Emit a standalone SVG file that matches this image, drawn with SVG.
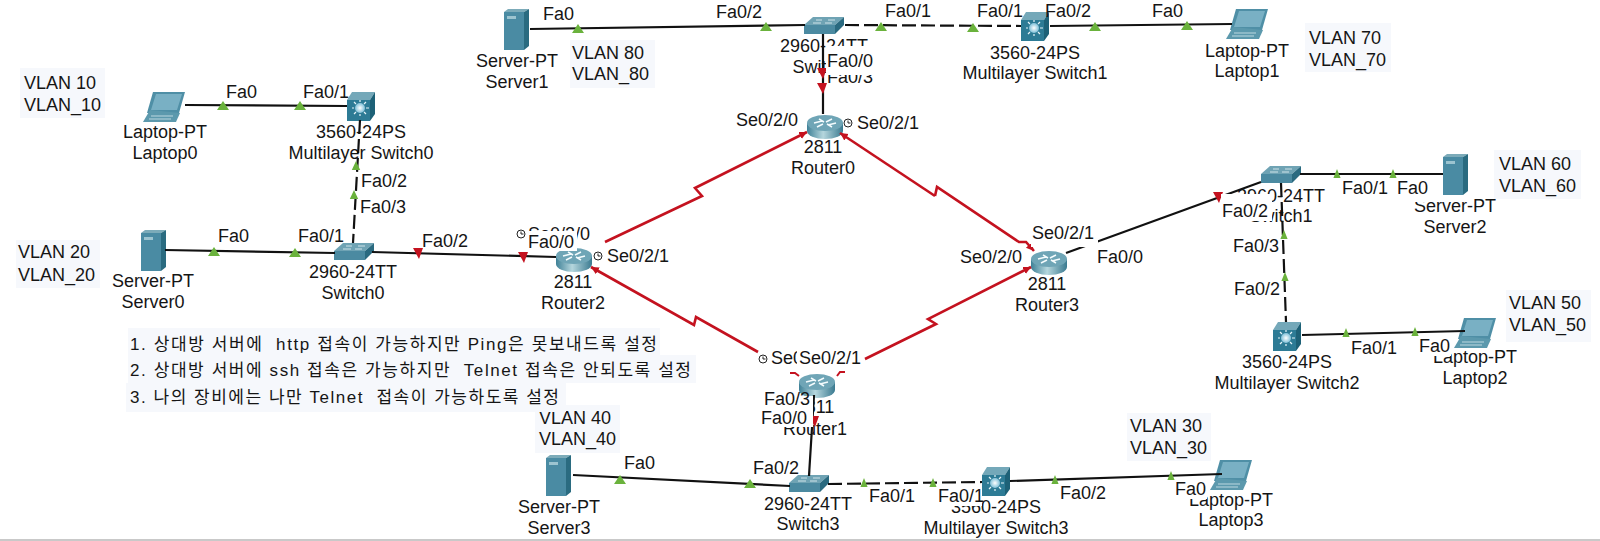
<svg xmlns="http://www.w3.org/2000/svg" width="1600" height="541" viewBox="0 0 1600 541">
<style>
text{font-family:"Liberation Sans",Arial,sans-serif;font-size:18px;fill:#151515}
.c{text-anchor:middle}
.note{font-family:"Liberation Sans","Noto Sans CJK KR",sans-serif;font-size:17px;white-space:pre}
.v{fill:#f6f8fc}
.w{fill:#fff}
.eth{fill:none;stroke:#111;stroke-width:2.2}
.dash{fill:none;stroke:#111;stroke-width:2.2;stroke-dasharray:14 5}
.ser{fill:none;stroke:#c4121f;stroke-width:2.6;marker-end:url(#ah)}
.stub{fill:none;stroke:#c4121f;stroke-width:2}
.ck{fill:#fff;stroke:#222;stroke-width:1}
.ckh{fill:none;stroke:#222;stroke-width:1}
</style>
<defs>
<marker id="ah" markerWidth="4" markerHeight="4" refX="3" refY="1.5" orient="auto" markerUnits="strokeWidth"><path d="M0,0 L3,1.5 L0,3 Z" fill="#c4121f"/></marker>
<linearGradient id="rg" x1="0" x2="1" y1="0" y2="0"><stop offset="0" stop-color="#3f8197"/><stop offset=".45" stop-color="#b5d6dd"/><stop offset="1" stop-color="#3a7a90"/></linearGradient>
<radialGradient id="sun"><stop offset="0" stop-color="#fff"/><stop offset="1" stop-color="#7fc0d8"/></radialGradient>
<polygon id="g" points="-6,4 6,4 0,-5" fill="#6ab23c"/>
<polygon id="r" points="-5,-5 5,-5 1,6" fill="#c4121f"/>
<g id="sw"><polygon points="0,8 9,0 40,0 31,8" fill="#6fa3b4"/><polygon points="0,8 31,8 31,17 0,17" fill="#4b8aa1"/><polygon points="31,8 40,0 40,8 31,17" fill="#2a6a80"/><path d="M12,3h6M24,3h7M9,6h8M21,6h7" stroke="#cfe3e9" stroke-width="1"/></g>
<g id="rt"><path d="M0,9 V17 A18,8 0 0 0 36,17 V9 Z" fill="url(#rg)"/><ellipse cx="18" cy="9" rx="18" ry="8" fill="#6fa5b6"/><path d="M7,9 L15,7 M21,11 L29,9 M12,5 L17,8 M20,10 L25,13 M25,5 L19,8 M16,10 L10,13" stroke="#f4fbfd" stroke-width="1.5"/></g>
<g id="ml"><polygon points="0,8 5,0 28,0 23,8" fill="#74a8b9"/><rect y="8" width="23" height="21" fill="#2d7b95"/><polygon points="23,8 28,0 28,22 23,29" fill="#1d6177"/><circle cx="13" cy="16" r="5" fill="url(#sun)"/><path d="M13,8V10M13,22V24M5,16H7M19,16H22M7,10L9,12M19,10L17,12M7,22L9,20M19,22L17,20" stroke="#e6f4f8" stroke-width="1.2"/></g>
<g id="sv"><polygon points="0,3 4,0 25,0 20,3" fill="#7cabb9"/><rect y="3" width="20" height="38" fill="#4a8ba3"/><polygon points="20,3 25,0 25,37 20,41" fill="#2a6b80"/><rect x="3" y="7" width="9" height="3" fill="#9cc4d0"/></g>
<g id="lp"><polygon points="10,0 42,0 36,21 4,21" fill="#4f8fa6"/><polygon points="13,2 39,2 34,18 8,18" fill="#79b0c4"/><polygon points="7,18 37,21 33,30 0,30" fill="#5c99ad"/><path d="M8,24H30M6,27H28" stroke="#bcd8e0" stroke-width="1"/></g>
<g id="ck"><circle r="4" class="ck"/><path d="M0,-2.5V0H2.5" class="ckh"/></g>
</defs>
<rect width="1600" height="541" fill="#fff"/>
<rect y="539" width="1600" height="2" fill="#c9c9c9"/>

<g id="notes">
<rect class="v" x="20" y="68" width="85" height="50"/><text x="24" y="89">VLAN 10</text><text x="24" y="111">VLAN_10</text>
<rect class="v" x="16" y="240" width="84" height="48"/><text x="18" y="258">VLAN 20</text><text x="18" y="281">VLAN_20</text>
<rect class="v" x="570" y="40" width="85" height="48"/><text x="572" y="59">VLAN 80</text><text x="572" y="80">VLAN_80</text>
<rect class="v" x="1305" y="23" width="86" height="49"/><text x="1309" y="44">VLAN 70</text><text x="1309" y="66">VLAN_70</text>
<rect class="v" x="1494" y="150" width="87" height="49"/><text x="1499" y="170">VLAN 60</text><text x="1499" y="192">VLAN_60</text>
<rect class="v" x="1506" y="290" width="85" height="52"/><text x="1509" y="309">VLAN 50</text><text x="1509" y="331">VLAN_50</text>
<rect class="v" x="535" y="405" width="85" height="48"/><text x="539" y="424">VLAN 40</text><text x="539" y="445">VLAN_40</text>
<rect class="v" x="1127" y="413" width="84" height="48"/><text x="1130" y="432">VLAN 30</text><text x="1130" y="454">VLAN_30</text>
<rect class="v" x="128" y="328" width="532" height="27"/><rect class="v" x="128" y="355" width="568" height="28"/><rect class="v" x="126" y="383" width="440" height="29"/>
<text class="note" x="130" y="350" textLength="527" lengthAdjust="spacing">1. 상대방 서버에  http 접속이 가능하지만 Ping은 못보내드록 설정</text>
<text class="note" x="130" y="376" textLength="561" lengthAdjust="spacing">2. 상대방 서버에 ssh 접속은 가능하지만  Telnet 접속은 안되도록 설정</text>
<text class="note" x="130" y="403" textLength="429" lengthAdjust="spacing">3. 나의 장비에는 나만 Telnet  접속이 가능하도록 설정</text>
</g>

<g id="Laptop0"><use href="#lp" x="143" y="92"/><text class="c" x="165" y="138">Laptop-PT</text><text class="c" x="165" y="159">Laptop0</text></g>
<g id="MultilayerSwitch0"><use href="#ml" x="347" y="92"/><text class="c" x="361" y="138">3560-24PS</text><text class="c" x="361" y="159">Multilayer Switch0</text></g>
<g id="Server0"><use href="#sv" x="141" y="230"/><text class="c" x="153" y="287">Server-PT</text><text class="c" x="153" y="308">Server0</text></g>
<g id="Switch0"><use href="#sw" x="334" y="243"/><text class="c" x="353" y="278">2960-24TT</text><text class="c" x="353" y="299">Switch0</text></g>
<g id="Router2"><use href="#rt" x="556" y="247"/><text class="c" x="573" y="288">2811</text><text class="c" x="573" y="309">Router2</text></g>
<g id="Server1"><use href="#sv" x="504" y="9"/><text class="c" x="517" y="67">Server-PT</text><text class="c" x="517" y="88">Server1</text></g>
<g id="Switch2"><use href="#sw" x="804" y="17"/><text class="c" x="824" y="52">2960-24TT</text><text class="c" x="824" y="73">Switch2</text></g>
<g id="Router0"><use href="#rt" x="807" y="114"/><text class="c" x="823" y="153">2811</text><text class="c" x="823" y="174">Router0</text></g>
<g id="MultilayerSwitch1"><use href="#ml" x="1021" y="12"/><text class="c" x="1035" y="59">3560-24PS</text><text class="c" x="1035" y="79">Multilayer Switch1</text></g>
<g id="Laptop1"><use href="#lp" x="1226" y="9"/><text class="c" x="1247" y="57">Laptop-PT</text><text class="c" x="1247" y="77">Laptop1</text></g>
<g id="Router3"><use href="#rt" x="1031" y="250"/><text class="c" x="1047" y="290">2811</text><text class="c" x="1047" y="311">Router3</text></g>
<g id="Switch1"><use href="#sw" x="1261" y="166"/><text class="c" x="1281" y="202">2960-24TT</text><text class="c" x="1281" y="222">Switch1</text></g>
<g id="Server2"><use href="#sv" x="1443" y="154"/><text class="c" x="1455" y="212">Server-PT</text><text class="c" x="1455" y="233">Server2</text></g>
<g id="MultilayerSwitch2"><use href="#ml" x="1273" y="322"/><text class="c" x="1287" y="368">3560-24PS</text><text class="c" x="1287" y="389">Multilayer Switch2</text></g>
<g id="Laptop2"><use href="#lp" x="1454" y="318"/><text class="c" x="1475" y="363">Laptop-PT</text><text class="c" x="1475" y="384">Laptop2</text></g>
<g id="Router1"><use href="#rt" x="799" y="373"/><text class="c" x="815" y="413">2811</text><text class="c" x="815" y="435">Router1</text></g>
<g id="Server3"><use href="#sv" x="546" y="455"/><text class="c" x="559" y="513">Server-PT</text><text class="c" x="559" y="534">Server3</text></g>
<g id="Switch3"><use href="#sw" x="789" y="475"/><text class="c" x="808" y="510">2960-24TT</text><text class="c" x="808" y="530">Switch3</text></g>
<g id="MultilayerSwitch3"><use href="#ml" x="982" y="467"/><text class="c" x="996" y="513">3560-24PS</text><text class="c" x="996" y="534">Multilayer Switch3</text></g>
<g id="Laptop3"><use href="#lp" x="1210" y="460"/><text class="c" x="1231" y="506">Laptop-PT</text><text class="c" x="1231" y="526">Laptop3</text></g>

<g id="connectors">
<path class="eth" d="M185,105L347,106"/>
<path class="dash" d="M360,120L353,243"/>
<path class="eth" d="M165,250L335,253"/>
<path class="eth" d="M372,252L556,257"/>
<path class="eth" d="M530,29L805,25"/>
<path class="dash" d="M845,25L1021,26"/>
<path class="eth" d="M1050,26L1232,24"/>
<path class="eth" d="M823,34L823,114"/>
<path class="eth" d="M1066,253L1261,182"/>
<path class="eth" d="M1300,174L1443,174"/>
<path class="dash" d="M1281,183L1286,322"/>
<path class="eth" d="M1302,335L1465,331"/>
<path class="eth" d="M814,395L809,476"/>
<path class="eth" d="M573,475L790,486"/>
<path class="dash" d="M828,484L982,482"/>
<path class="eth" d="M1010,481L1222,474"/>
<path class="ser" d="M605,242L702,196L695,188L807,132"/>
<path class="ser" d="M758,352L696,317L694,325L591,267"/>
<path class="ser" d="M935,196L937,187L1019,242L1026,242L1034,251"/>
<path class="ser" d="M935,196L840,133"/>
<path class="ser" d="M865,359L936,324L928,319L1031,267"/>
<path class="stub" d="M790,373L795,373L799,376M845,372L840,372L837,376"/>
</g>

<g id="markers">
<use href="#g" x="223" y="106"/><use href="#g" x="300" y="106"/><use href="#g" x="214" y="252"/><use href="#g" x="295" y="253"/>
<use href="#g" transform="translate(356,166) scale(.7,1)"/><use href="#g" transform="translate(354,195) scale(.7,1)"/>
<use href="#g" x="578" y="29"/><use href="#g" x="766" y="27"/><use href="#g" x="881" y="27"/><use href="#g" x="973" y="28"/><use href="#g" x="1095" y="27"/><use href="#g" x="1187" y="26"/>
<use href="#g" transform="translate(1337,174) scale(.6,1)"/><use href="#g" transform="translate(1393,174) scale(.6,1)"/>
<use href="#g" transform="translate(1284,235) scale(.6,1)"/><use href="#g" transform="translate(1285,277) scale(.6,1)"/>
<use href="#g" transform="translate(1346,333) scale(.6,1)"/><use href="#g" transform="translate(1415,332) scale(.6,1)"/>
<use href="#g" x="620" y="480"/><use href="#g" x="750" y="484"/>
<use href="#g" transform="translate(864,483) scale(.6,1)"/><use href="#g" transform="translate(933,483) scale(.6,1)"/>
<use href="#g" transform="translate(1055,480) scale(.6,1)"/><use href="#g" transform="translate(1171,476) scale(.6,1)"/>
<use href="#r" x="418" y="253"/><use href="#r" x="523" y="257"/><use href="#r" x="822" y="73"/><use href="#r" x="822" y="88"/>
<use href="#r" x="1218" y="197"/><use href="#r" x="814" y="421"/>
</g>

<g id="ports">
<text x="226" y="98">Fa0</text><text x="303" y="98">Fa0/1</text>
<text x="361" y="187">Fa0/2</text><text x="360" y="213">Fa0/3</text>
<text x="218" y="242">Fa0</text><text x="298" y="242">Fa0/1</text><text x="422" y="247">Fa0/2</text>
<text x="543" y="20">Fa0</text><text x="716" y="18">Fa0/2</text><text x="885" y="17">Fa0/1</text>
<text x="977" y="17">Fa0/1</text><text x="1045" y="17">Fa0/2</text><text x="1152" y="17">Fa0</text>
<text x="827" y="83">Fa0/3</text>
<rect class="w" x="826" y="46" width="49" height="29"/><text x="827" y="67">Fa0/0</text>
<text x="736" y="126">Se0/2/0</text><use href="#ck" x="848" y="123"/><text x="857" y="129">Se0/2/1</text>
<use href="#ck" x="521" y="234"/><text x="528" y="240">Se0/2/0</text>
<rect class="w" x="527" y="231" width="50" height="20"/><text x="528" y="248">Fa0/0</text>
<use href="#ck" x="598" y="256"/><text x="607" y="262">Se0/2/1</text>
<text x="960" y="263">Se0/2/0</text>
<rect class="w" x="1031" y="226" width="67" height="21"/><text x="1032" y="239">Se0/2/1</text>
<text x="1097" y="263">Fa0/0</text>
<rect class="w" x="1221" y="194" width="51" height="27"/><text x="1222" y="217">Fa0/2</text>
<text x="1342" y="194">Fa0/1</text>
<rect class="w" x="1396" y="181" width="33" height="21"/><text x="1397" y="194">Fa0</text>
<text x="1233" y="252">Fa0/3</text><text x="1234" y="295">Fa0/2</text>
<text x="1351" y="354">Fa0/1</text>
<rect class="w" x="1418" y="338" width="33" height="18"/><text x="1419" y="352">Fa0</text>
<use href="#ck" x="763" y="359"/><text x="771" y="364">Se0/2/0</text>
<rect class="w" x="797" y="350" width="67" height="17"/><text x="799" y="364">Se0/2/1</text>
<rect class="w" x="763" y="396" width="50" height="14"/><text x="764" y="405">Fa0/3</text>
<rect class="w" x="760" y="410" width="53" height="17"/><text x="761" y="424">Fa0/0</text>
<text x="624" y="469">Fa0</text><text x="753" y="474">Fa0/2</text>
<text x="869" y="502">Fa0/1</text>
<rect class="w" x="937" y="488" width="45" height="18"/><text x="938" y="502">Fa0/1</text>
<text x="1060" y="499">Fa0/2</text>
<rect class="w" x="1174" y="481" width="33" height="18"/><text x="1175" y="495">Fa0</text>
</g>
</svg>
